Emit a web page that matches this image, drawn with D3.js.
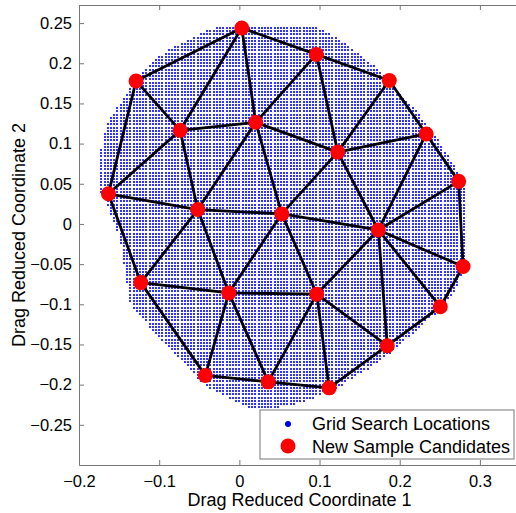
<!DOCTYPE html>
<html>
<head>
<meta charset="utf-8">
<script src="https://cdn.jsdelivr.net/npm/d3@7"></script>
<style>
  body { margin: 0; background: #fff; }
  svg { display: block; font-family: "Liberation Sans", Arial, sans-serif; }
</style>
</head>
<body>
<div id="chart"></div>
<script>
// sample candidates (red)
let sampleX = [0.003, 0.096, 0.187, 0.233, 0.2735, 0.279, 0.2506, 0.1845, 0.112, 0.036, -0.0424,
    -0.123, -0.0132, 0.0965, 0.1733, 0.0529, -0.0519, -0.1633, -0.0739, -0.1288, 0.0204, 0.1227];
let sampleY = [0.2438, 0.211, 0.1785, 0.112, 0.053, -0.053, -0.103, -0.1515, -0.204, -0.1965, -0.1885,
    -0.073, -0.0858, -0.0874, -0.0075, 0.0125, 0.0179, 0.0375, 0.1165, 0.178, 0.1265, 0.0894];

// outline of grid search region
let boundX = [-0.034, 0.0133, 0.0906, 0.1131, 0.1381, 0.1593, 0.1817, 0.2004, 0.2253, 0.244, 0.2627,
    0.2814, 0.2839, 0.2839, 0.2689, 0.244, 0.2128, 0.1754, 0.1256, 0.0757, 0.0383, 0.0133, -0.0241,
    -0.049, -0.0864, -0.1113, -0.1363, -0.1463, -0.155, -0.1737, -0.1725, -0.1662, -0.145, -0.1238,
    -0.0989, -0.0702];
let boundY = [0.2438, 0.2476, 0.2463, 0.2376, 0.2201, 0.2039, 0.1851, 0.1602, 0.1352, 0.1102, 0.0815,
    0.0515, 0.0041, -0.0484, -0.0833, -0.1121, -0.1395, -0.1707, -0.2019, -0.2231, -0.2306, -0.2306,
    -0.2118, -0.1956, -0.1544, -0.1295, -0.0995, -0.0333, 0.0004, 0.0416, 0.0915, 0.1227, 0.1564,
    0.1851, 0.2101, 0.2263];
let gridStep = 0.004;

let xTicks = [-0.2, -0.1, 0, 0.1, 0.2, 0.3];
let yTicks = [-0.25, -0.2, -0.15, -0.1, -0.05, 0, 0.05, 0.1, 0.15, 0.2, 0.25];
let legendLabels = ["Grid Search Locations", "New Sample Candidates"];

(() => {
    let w = 516;
    let h = 513;
    let mLeft = 79, mTop = 5, mRight = 520, mBottom = 465;

    let svg = d3.select("#chart")
        .append("svg")
        .attr("width", w)
        .attr("height", h);

    let x = d3.scaleLinear().domain([-0.2, 0.35]).range([mLeft, mRight]);
    let y = d3.scaleLinear().domain([-0.3, 0.2725]).range([mBottom, mTop]);

    // grid points inside the region
    let poly = boundX.map((d, i) => [d, boundY[i]]);
    let grid = [];
    for (let i = 0; i * gridStep <= 0.5; i++) {
        for (let j = 0; j * gridStep <= 0.52; j++) {
            let p = [-0.2 + i * gridStep, -0.26 + j * gridStep];
            if (d3.polygonContains(poly, p)) grid.push(p);
        }
    }

    let plot = svg.append("g");

    plot.append("g")
        .selectAll("circle")
        .data(grid)
        .enter()
        .append("circle")
        .attr("cx", d => Math.round(x(d[0])))
        .attr("cy", d => Math.round(y(d[1])))
        .attr("r", 1.1)
        .attr("fill", "#0000ff");

    // triangulation of the samples
    let pts = sampleX.map((d, i) => [d, sampleY[i]]);
    let delaunay = d3.Delaunay.from(pts);
    let edges = [];
    let tri = delaunay.triangles;
    for (let i = 0; i < tri.length; i += 3) {
        for (let k = 0; k < 3; k++) {
            let a = tri[i + k], b = tri[i + (k + 1) % 3];
            if (a < b || delaunay.halfedges[i + k] === -1) edges.push([a, b]);
        }
    }

    plot.selectAll("line.edge")
        .data(edges)
        .enter()
        .append("line")
        .attr("class", "edge")
        .attr("x1", d => x(pts[d[0]][0]))
        .attr("y1", d => y(pts[d[0]][1]))
        .attr("x2", d => x(pts[d[1]][0]))
        .attr("y2", d => y(pts[d[1]][1]))
        .attr("stroke", "#000")
        .attr("stroke-width", 2.8)
        .attr("stroke-linecap", "round");

    plot.selectAll("circle.sample")
        .data(pts)
        .enter()
        .append("circle")
        .attr("class", "sample")
        .attr("cx", d => x(d[0]))
        .attr("cy", d => y(d[1]))
        .attr("r", 7.5)
        .attr("fill", "#ff0000");

    // axes (box with inward ticks)
    let axisColor = "#777";
    let tl = 5;

    svg.append("g")
        .attr("transform", "translate(0," + mBottom + ")")
        .call(d3.axisBottom(x).tickValues(xTicks).tickSizeInner(-tl).tickSizeOuter(0).tickPadding(10)
            .tickFormat(d3.format("")))
        .call(g => g.select(".domain").attr("stroke", axisColor))
        .call(g => g.selectAll(".tick line").attr("stroke", axisColor))
        .call(g => g.selectAll("text").attr("font-size", 16.5).attr("fill", "#000"));

    svg.append("g")
        .attr("transform", "translate(0," + mTop + ")")
        .call(d3.axisTop(x).tickValues(xTicks).tickSizeInner(-tl).tickSizeOuter(0).tickFormat(""))
        .call(g => g.select(".domain").attr("stroke", axisColor))
        .call(g => g.selectAll(".tick line").attr("stroke", axisColor));

    svg.append("g")
        .attr("transform", "translate(" + mLeft + ",0)")
        .call(d3.axisLeft(y).tickValues(yTicks).tickSizeInner(-tl).tickSizeOuter(0).tickPadding(7)
            .tickFormat(d3.format("")))
        .call(g => g.select(".domain").attr("stroke", axisColor))
        .call(g => g.selectAll(".tick line").attr("stroke", axisColor))
        .call(g => g.selectAll("text").attr("font-size", 16.5).attr("fill", "#000"));

    svg.selectAll(".tick text").attr("font-family", "Liberation Sans, Arial, sans-serif");

    svg.append("text")
        .attr("x", (mLeft + mRight) / 2)
        .attr("y", 506)
        .attr("text-anchor", "middle")
        .attr("font-size", 18)
        .text("Drag Reduced Coordinate 1");

    svg.append("text")
        .attr("transform", "translate(25," + ((mTop + mBottom) / 2) + ") rotate(-90)")
        .attr("text-anchor", "middle")
        .attr("font-size", 18)
        .text("Drag Reduced Coordinate 2");

    // legend
    let lg = svg.append("g").attr("transform", "translate(260,410)");
    lg.append("rect")
        .attr("width", 254)
        .attr("height", 49)
        .attr("fill", "#fff")
        .attr("stroke", axisColor);
    lg.append("circle").attr("cx", 28).attr("cy", 14).attr("r", 3).attr("fill", "#0000ff");
    lg.append("circle").attr("cx", 28).attr("cy", 36).attr("r", 7.5).attr("fill", "#ff0000");
    lg.selectAll("text.lbl")
        .data(legendLabels)
        .enter()
        .append("text")
        .attr("class", "lbl")
        .attr("x", 52)
        .attr("y", (d, i) => 14 + i * 23)
        .attr("dy", "0.35em")
        .attr("font-size", 18)
        .text(d => d);
})();
</script>
</body>
</html>
